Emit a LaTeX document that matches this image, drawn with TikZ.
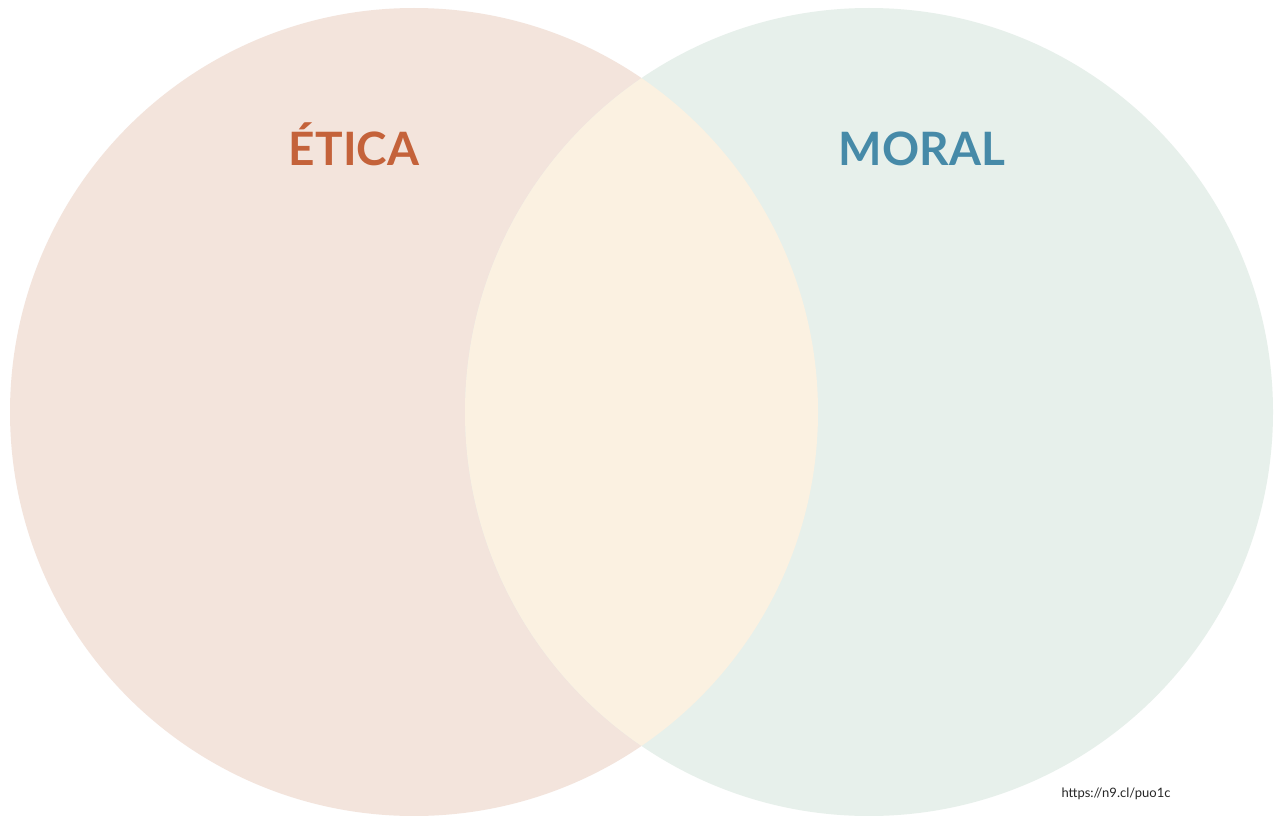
\documentclass[tikz,border=0pt]{standalone}
\usepackage{fontspec}
\setmainfont{Lato}
\usepackage{tikz}
\definecolor{eticafill}{HTML}{F3E4DC}
\definecolor{moralfill}{HTML}{E7F0EB}
\definecolor{lensfill}{HTML}{FBF1E1}
\definecolor{eticatext}{HTML}{C4623A}
\definecolor{moraltext}{HTML}{468AA8}
\tikzset{
  title/.style={font=\fontsize{46}{50}\selectfont\bfseries, anchor=base},
  link/.style={font=\fontsize{13}{15}\selectfont, text=black!85}
}

\begin{document}
\begin{tikzpicture}[x=1pt, y=-1pt]
		%%%%% START %%%%%
		
		\useasboundingbox (0, 0) rectangle (1274, 816);
		\clip (0, 0) rectangle (1274, 816);
		\fill[white] (0, 0) rectangle (1274, 816);
		
		\fill[eticafill] (414, 412) circle[radius=404pt];
		\fill[moralfill] (869, 412) circle[radius=404pt];
		\begin{scope}
			\clip (414, 412) circle[radius=404pt];
			\fill[lensfill] (869, 412) circle[radius=404pt];
		\end{scope}
		
		\node[title, text=eticatext] (etica) at (354, 165) {ÉTICA};
		\node[title, text=moraltext] (moral) at (922, 165) {MORAL};
		
		\node[link] (url) at (1116, 794) {https://n9.cl/puo1c};
		
		%%%%% END %%%%%
	\end{tikzpicture}
\end{document}
